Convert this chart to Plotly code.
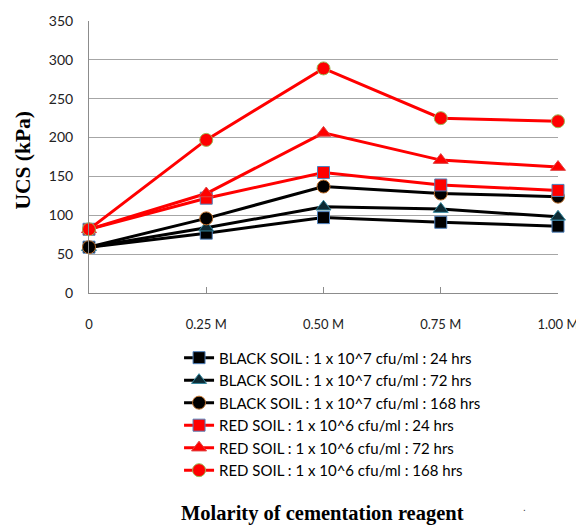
import plotly.graph_objects as go

x_vals = [0, 0.25, 0.5, 0.75, 1.0]
x_labels = ["0", "0.25 M", "0.50 M", "0.75 M", "1.00 M"]

black_24 = [59, 77, 97, 91, 86]
black_72 = [59, 84, 111, 108, 98]
black_168 = [59, 96, 137, 128, 124]
red_24 = [82, 122, 155, 139, 132]
red_72 = [82, 128, 206, 171, 162]
red_168 = [82, 197, 289, 225, 221]

names = [
    "BLACK SOIL : 1 x 10^7 cfu/ml : 24 hrs",
    "BLACK SOIL : 1 x 10^7 cfu/ml : 72 hrs",
    "BLACK SOIL : 1 x 10^7 cfu/ml : 168 hrs",
    "RED SOIL : 1 x 10^6 cfu/ml : 24 hrs",
    "RED SOIL : 1 x 10^6 cfu/ml : 72 hrs",
    "RED SOIL : 1 x 10^6 cfu/ml : 168 hrs",
]
series = [black_24, black_72, black_168, red_24, red_72, red_168]
line_colors = ["#000000", "#000000", "#000000", "#ff0000", "#ff0000", "#ff0000"]
symbols = ["square", "triangle-up", "circle", "square", "triangle-up", "circle"]
fills = ["#000000", "#0d2a33", "#000000", "#ff0000", "#ff0000", "#ff0000"]
outlines = ["#4f81bd", "#31859c", "#c0702a", "#4f81bd", "#e04040", "#9bbb59"]
sizes = [12, 13, 13, 12, 13, 13]

fig = go.Figure()
for name, ys, lc, sym, fc, oc, sz in zip(names, series, line_colors, symbols, fills, outlines, sizes):
    fig.add_trace(go.Scatter(
        x=x_vals, y=ys, name=name, mode="lines+markers",
        line=dict(color=lc, width=3),
        marker=dict(symbol=sym, size=sz, color=fc, line=dict(color=oc, width=1)),
        cliponaxis=False,
    ))

# the page body adds an 8px offset; the figure is sized to fit the 584x525 window
fig.update_layout(
    width=576, height=517,
    margin=dict(l=81, r=26, t=13, b=232, autoexpand=False),
    paper_bgcolor="white", plot_bgcolor="white",
    font=dict(family="Lato", size=13, color="#000000"),
    showlegend=True,
    legend=dict(
        x=0.192, y=-0.178, xanchor="left", yanchor="top",
        font=dict(family="Lato", size=15, color="#000000"),
        bgcolor="rgba(0,0,0,0)", borderwidth=0, tracegroupgap=0,
    ),
    xaxis=dict(
        range=[0, 1], tickvals=x_vals, ticktext=x_labels,
        showgrid=False, zeroline=False, automargin=False,
        showline=True, linecolor="#8c8c8c", linewidth=1,
        ticks="inside", ticklen=6, tickcolor="#8c8c8c",
        ticklabelstandoff=19,
        tickfont=dict(family="Lato", size=13, color="#222222"),
    ),
    yaxis=dict(
        range=[0, 350], dtick=50, automargin=False,
        showgrid=True, gridcolor="#a6a6a6", gridwidth=1,
        zeroline=False,
        showline=True, linecolor="#8c8c8c", linewidth=1,
        ticks="", ticklabelstandoff=12,
        tickfont=dict(family="Lato", size=14, color="#222222"),
    ),
    annotations=[
        dict(text="<b>UCS (kPa)</b>", x=-0.141, y=0.49, xref="paper", yref="paper",
             textangle=-90, showarrow=False, xanchor="center", yanchor="middle",
             font=dict(family="Liberation Serif", size=21.5, color="#000000")),
        dict(text="<b>Molarity of cementation reagent</b>", x=0.497, y=-0.809,
             xref="paper", yref="paper", showarrow=False, xanchor="center", yanchor="middle",
             font=dict(family="Liberation Serif", size=20.5, color="#000000")),
        dict(text=".", x=0.928, y=-0.79, xref="paper", yref="paper", showarrow=False,
             xanchor="center", yanchor="middle",
             font=dict(family="Liberation Sans", size=10, color="#333333")),
    ],
)

fig.write_html("out.html")
